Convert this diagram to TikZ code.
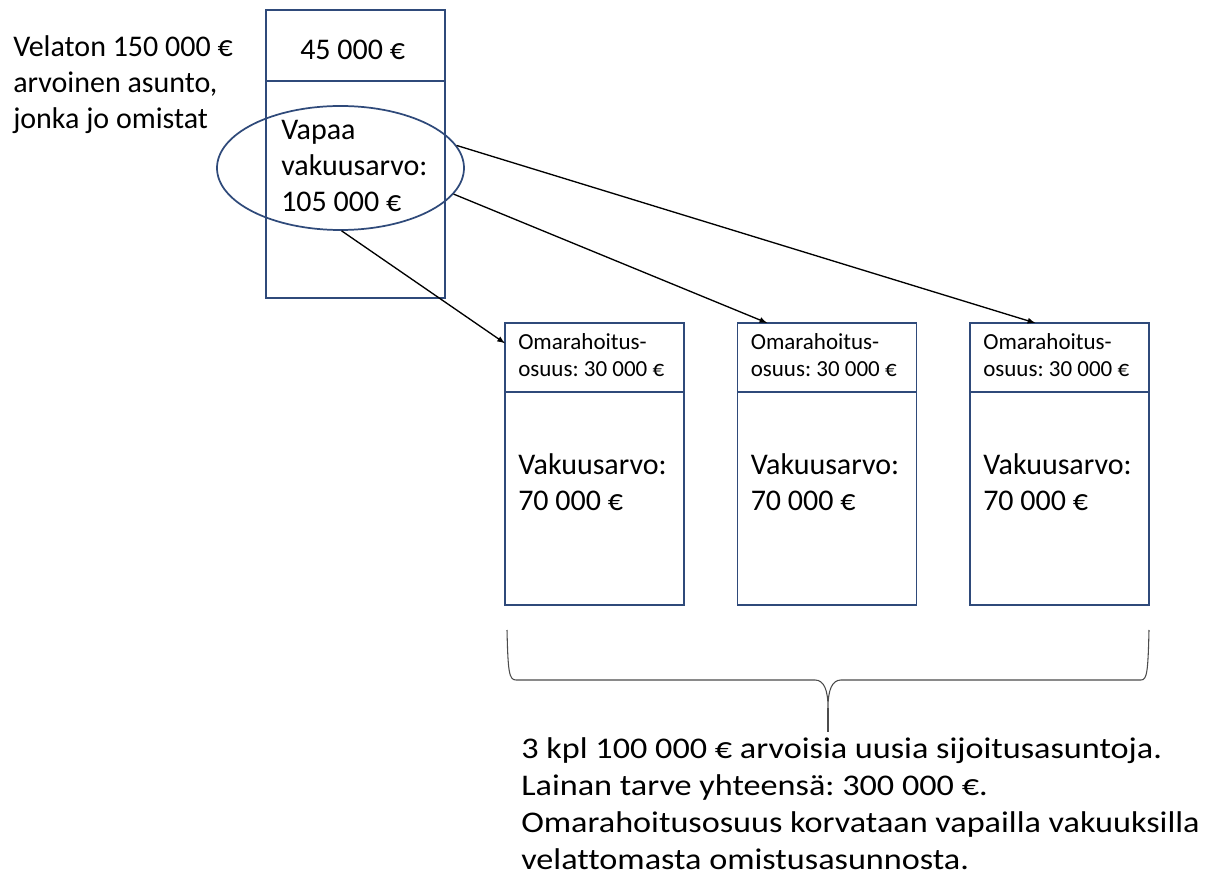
\documentclass[tikz,border=0pt]{standalone}
\usepackage{fontspec}
\setmainfont{Carlito}[Ligatures=NoCommon]
\newfontfamily\widefont[FakeStretch=1.14,Ligatures=NoCommon]{Carlito}
\usetikzlibrary{arrows,positioning,shapes.geometric}
\tikzset{>=latex}
\definecolor{boxblue}{HTML}{2F4A7A}
\frenchspacing

\begin{document}
\begin{tikzpicture}[x=0.75pt,y=-0.75pt,
    cell/.style={draw=boxblue, line width=1.3pt, minimum width=134.25pt, inner sep=0pt, outer sep=0pt},
    big/.style={font=\fontsize{22.5}{27}\selectfont, inner sep=0pt, anchor=base west, align=left},
    small/.style={font=\fontsize{17.25}{20.25}\selectfont, inner sep=0pt, anchor=base west, align=left},
    link/.style={->, line width=1pt},
    brace/.style={line width=0.8pt, black!70}]
  \useasboundingbox (0,0) rectangle (1207,887);

  % owned flat (base = last line)
  \node[big] (owned) at (13,129) {Velaton 150 000 €\\arvoinen asunto,\\jonka jo omistat};
  \node[cell, minimum height=53.25pt] (head0) at (355.5,45.5) {};
  \node[cell, minimum height=162.75pt, below=0pt of head0] (body0) {};
  \node[big] (debt0) at (300,60) {45 000 €};
  \node[ellipse, draw=boxblue, line width=1.3pt, minimum width=185.25pt, minimum height=93pt, inner sep=0pt] (oval) at (340.5,168) {};
  \node[big] (free) at (281,212) {Vapaa\\vakuusarvo:\\105 000 €};

  % new flats
  \foreach \i in {1,2,3}
    {
      \pgfmathsetmacro{\xc}{594.5+232.5*(\i-1)}
      \pgfmathsetmacro{\xl}{518+232.5*(\i-1)}
      \node[cell, minimum height=51.75pt] (head\i) at (\xc,357.5) {};
      \node[cell, minimum height=159.75pt, below=0pt of head\i] (body\i) {};
      \node[small] (share\i) at (\xl,377) {Omarahoitus-\\osuus: 30 000 €};
      \node[big] (value\i) at (\xl,511) {Vakuusarvo:\\70 000 €};
    }

  \draw[link] (oval.-89) -- (head1.171);
  \draw[link] (oval.-13) -- (head2.150);
  \draw[link] (oval.11) -- (head3.125);

  % brace
  \coordinate (tip) at (828,708);
  \draw[brace] (507,630) .. controls (508,672) and (509,680) .. (516,680) -- (815,680)
    .. controls (824,680) and (828,690) .. (tip)
    .. controls (828,690) and (832,680) .. (841,680) -- (1141,680)
    .. controls (1147,680) and (1148,672) .. (1149,630);
  \draw[brace] (tip) -- (828,732);

  \node[big, font=\widefont\fontsize{22.5}{27.75}\selectfont] (summary) at (521,869) {3 kpl 100 000 € arvoisia uusia sijoitusasuntoja.\\Lainan tarve yhteensä: 300 000 €.\\Omarahoitusosuus korvataan vapailla vakuuksilla\\velattomasta omistusasunnosta.};
\end{tikzpicture}
\end{document}
